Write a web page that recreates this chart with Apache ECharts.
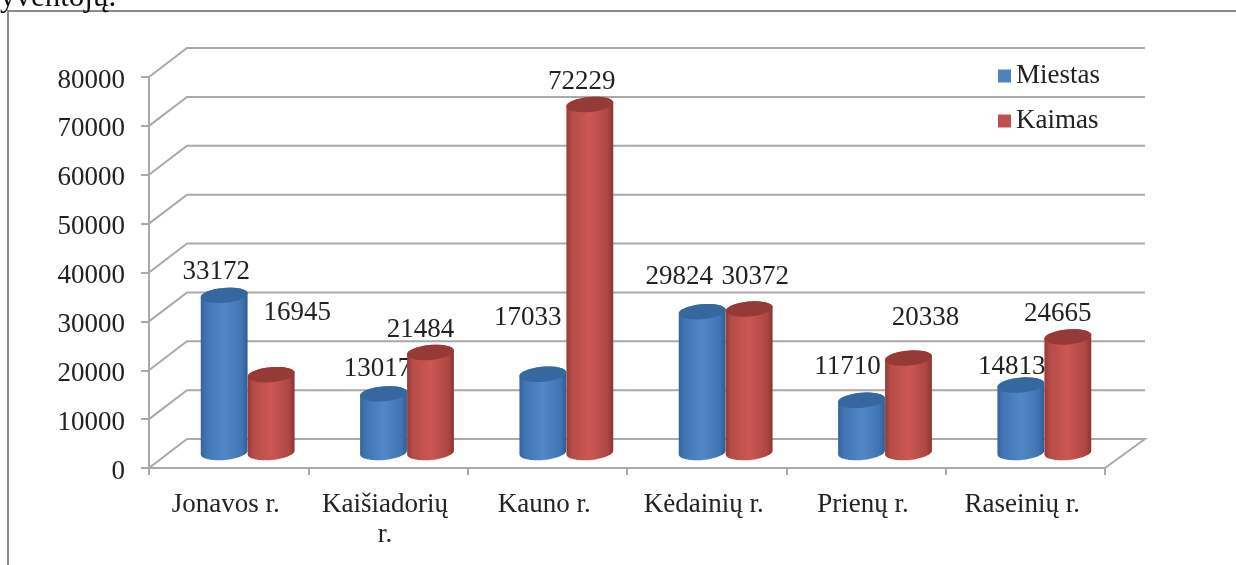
<!DOCTYPE html>
<html>
<head>
<meta charset="utf-8">
<style>
  html, body { margin: 0; padding: 0; background: #fff; overflow: hidden; }
  #main { width: 1236px; height: 565px; }
</style>
<script src="https://cdn.jsdelivr.net/npm/echarts@6/dist/echarts.min.js"></script>
</head>
<body>
<div id="main"></div>
<script>
var categories = ['Jonavos r.', 'Kaišiadorių\nr.', 'Kauno r.', 'Kėdainių r.', 'Prienų r.', 'Raseinių r.'];
var miestas = [33172, 13017, 17033, 29824, 11710, 14813];
var kaimas = [16945, 21484, 72229, 30372, 20338, 24665];
var yTicks = [0, 10000, 20000, 30000, 40000, 50000, 60000, 70000, 80000];

// hand placed labels, same as in the original chart (dx, dy from the bar top)
var miestasLabelOffset = [[-8, -19], [-6, -21], [-15, -52], [-23, -31], [-14, -29], [-9, -14]];
var kaimasLabelOffset = [[26, -58], [-10, -19], [-8, -19], [6, -28], [17, -36], [-10, -19]];

var FONT = '"Liberation Serif", "Times New Roman", serif';
var DEPTH_X = 38, DEPTH_Y = -29;
var LINE = '#a9a9a9';

var myChart = echarts.init(document.getElementById('main'));

// points of a slightly tilted ellipse, t in radians
function ellipsePoints(cx, cy, a, b, from, to) {
  var pts = [], r = -0.09, n = 32;
  for (var i = 0; i <= n; i++) {
    var t = from + (to - from) * i / n;
    pts.push([
      cx + a * Math.cos(t) * Math.cos(r) - b * Math.sin(t) * Math.sin(r),
      cy + a * Math.cos(t) * Math.sin(r) + b * Math.sin(t) * Math.cos(r)
    ]);
  }
  return pts;
}

function cylinder(stops, topColor, side, offsets) {
  return function (params, api) {
    var i = api.value(0), v = api.value(1);
    var base = api.coord([i, 0]);
    var top = api.coord([i, v]);
    var a = 23.5, b = 7.5;
    var cx = base[0] + DEPTH_X / 2 + side * a;
    var baseY = base[1] + DEPTH_Y / 2 - 1;
    var labelY = top[1] + DEPTH_Y / 2;
    var topY = labelY + 4;
    var body = ellipsePoints(cx, baseY, a, b, 0, Math.PI)
      .concat(ellipsePoints(cx, topY, a, b, Math.PI, 2 * Math.PI));
    return {
      type: 'group',
      children: [
        {
          type: 'polygon',
          shape: { points: body },
          style: { fill: new echarts.graphic.LinearGradient(0, 0, 1, 0, stops) }
        },
        {
          type: 'polygon',
          shape: { points: ellipsePoints(cx, topY, a, b, 0, 2 * Math.PI) },
          style: { fill: topColor }
        },
        {
          type: 'text',
          style: {
            text: String(v),
            x: cx + offsets[i][0],
            y: labelY + offsets[i][1],
            align: 'center',
            verticalAlign: 'middle',
            fill: '#222',
            font: '27px ' + FONT
          }
        }
      ]
    };
  };
}

// walls of the fake 3d box: one polyline per tick
function renderGridLine(params, api) {
  var sys = params.coordSys;
  var y = api.coord([0, api.value(0)])[1];
  var left = sys.x, right = sys.x + sys.width;
  var pts = [[left, y], [left + DEPTH_X, y + DEPTH_Y], [right + DEPTH_X + 2, y + DEPTH_Y]];
  if (api.value(0) === 0) {
    pts.push([right, y]);
  }
  return {
    type: 'polyline',
    shape: { points: pts },
    style: { stroke: LINE, lineWidth: 2, fill: null }
  };
}

function toRows(values) {
  return values.map(function (v, i) { return [i, v]; });
}

myChart.setOption({
  animation: false,
  backgroundColor: '#fff',
  grid: { left: 149, top: 77, width: 956, height: 391, containLabel: false },
  legend: {
    orient: 'vertical',
    left: 998,
    top: 61,
    padding: 0,
    itemWidth: 13,
    itemHeight: 13,
    itemGap: 15,
    icon: 'rect',
    data: ['Miestas', 'Kaimas'],
    textStyle: { fontFamily: FONT, fontSize: 27, color: '#222', lineHeight: 30 }
  },
  xAxis: {
    type: 'category',
    data: categories,
    axisLine: { show: true, lineStyle: { color: LINE, width: 2 } },
    axisTick: { show: true, length: 7, alignWithLabel: false, lineStyle: { color: LINE, width: 2 } },
    axisLabel: { fontFamily: FONT, fontSize: 27, color: '#222', margin: 22, lineHeight: 30, interval: 0, padding: [0, 6, 0, 0] }
  },
  yAxis: {
    type: 'value',
    min: 0,
    max: 80000,
    interval: 10000,
    axisLine: { show: true, lineStyle: { color: LINE, width: 2 } },
    axisTick: { show: true, length: 8, lineStyle: { color: LINE, width: 2 } },
    axisLabel: { fontFamily: FONT, fontSize: 27, color: '#222', margin: 24, verticalAlign: 'top', padding: [-10, 0, 0, 0], formatter: function (v) { return String(v); } },
    splitLine: { show: false }
  },
  graphic: [
    {
      type: 'polyline',
      shape: { points: [[8, 565], [8, 11], [1236, 11]] },
      style: { stroke: '#8a8a8a', lineWidth: 2, fill: null }
    },
    {
      type: 'text',
      x: 0,
      y: -18,
      style: { text: 'yventojų.', fill: '#111', font: '31px ' + FONT }
    }
  ],
  series: [
    {
      type: 'custom',
      silent: true,
      coordinateSystem: 'cartesian2d',
      clip: false,
      renderItem: renderGridLine,
      encode: { y: 0 },
      data: yTicks.map(function (t) { return [t]; }),
      z: 1
    },
    {
      name: 'Miestas',
      type: 'custom',
      renderItem: cylinder([
        { offset: 0, color: '#34649e' },
        { offset: 0.12, color: '#4274b2' },
        { offset: 0.5, color: '#5187c9' },
        { offset: 0.88, color: '#4274b2' },
        { offset: 1, color: '#305b92' }
      ], '#37679f', -1, miestasLabelOffset),
      encode: { x: 0, y: 1 },
      itemStyle: { color: '#4f81bd' },
      data: toRows(miestas),
      z: 2
    },
    {
      name: 'Kaimas',
      type: 'custom',
      renderItem: cylinder([
        { offset: 0, color: '#943a37' },
        { offset: 0.12, color: '#b54c49' },
        { offset: 0.5, color: '#cd5653' },
        { offset: 0.88, color: '#ad4744' },
        { offset: 1, color: '#8a3431' }
      ], '#963a37', 1, kaimasLabelOffset),
      encode: { x: 0, y: 1 },
      itemStyle: { color: '#c0504d' },
      data: toRows(kaimas),
      z: 3
    }
  ]
});
</script>
</body>
</html>
